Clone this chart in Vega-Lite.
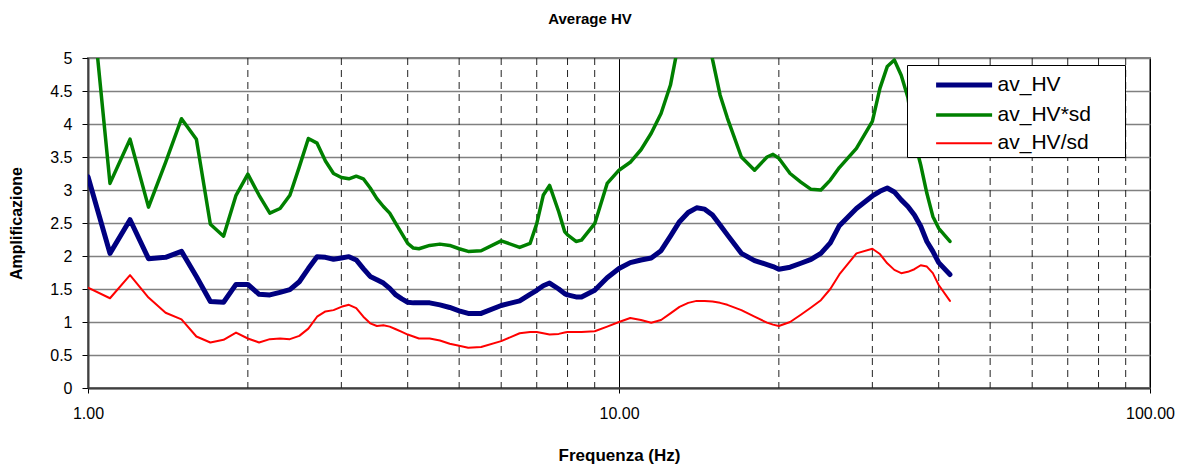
{
  "$schema": "https://vega.github.io/schema/vega-lite/v6.json",
  "width": 1062,
  "height": 330,
  "autosize": {"type": "none"},
  "padding": {"left": 88, "top": 58, "right": 42, "bottom": 80},
  "background": "white",
  "title": {"text": "Average HV", "fontSize": 15, "fontWeight": "bold", "font": "Liberation Sans", "dx": -29, "offset": 23, "color": "black"},
  "config": {
    "font": "Liberation Sans",
    "view": {"stroke": "#808080", "strokeWidth": 2}
  },
  "layer": [
    {
      "data": {"values": [{"g": 2}, {"g": 3}, {"g": 4}, {"g": 5}, {"g": 6}, {"g": 7}, {"g": 8}, {"g": 9}, {"g": 20}, {"g": 30}, {"g": 40}, {"g": 50}, {"g": 60}, {"g": 70}, {"g": 80}, {"g": 90}]},
      "mark": {"type": "rule", "color": "#222222", "strokeWidth": 1, "strokeDash": [7, 5]},
      "encoding": {
        "x": {"field": "g", "type": "quantitative", "scale": {"type": "log", "domain": [1, 100], "nice": false},
          "axis": {"values": [1, 10, 100], "format": ".2f", "title": "Frequenza (Hz)", "grid": true, "gridColor": "black", "gridWidth": 1, "tickSize": 5, "tickColor": "black", "labelPadding": 12, "labelFontSize": 16, "labelColor": "black", "titleFontSize": 17, "titleFontWeight": "bold", "titleColor": "black", "titlePadding": 26, "labelFlush": false, "labelOverlap": false, "domainColor": "#404040", "domainWidth": 2}}
      }
    },
    {
      "data": {"values": [
        {"f": 1.0, "av_HV": 3.20, "av_HV*sd": 6.49, "av_HV/sd": 1.52},
        {"f": 1.1, "av_HV": 2.04, "av_HV*sd": 3.10, "av_HV/sd": 1.36},
        {"f": 1.2, "av_HV": 2.55, "av_HV*sd": 3.77, "av_HV/sd": 1.71},
        {"f": 1.3, "av_HV": 1.96, "av_HV*sd": 2.74, "av_HV/sd": 1.37},
        {"f": 1.4, "av_HV": 1.98, "av_HV*sd": 3.42, "av_HV/sd": 1.14},
        {"f": 1.5, "av_HV": 2.07, "av_HV*sd": 4.08, "av_HV/sd": 1.04},
        {"f": 1.6, "av_HV": 1.69, "av_HV*sd": 3.77, "av_HV/sd": 0.78},
        {"f": 1.7, "av_HV": 1.31, "av_HV*sd": 2.48, "av_HV/sd": 0.69},
        {"f": 1.8, "av_HV": 1.30, "av_HV*sd": 2.30, "av_HV/sd": 0.73},
        {"f": 1.9, "av_HV": 1.57, "av_HV*sd": 2.92, "av_HV/sd": 0.84},
        {"f": 2.0, "av_HV": 1.57, "av_HV*sd": 3.24, "av_HV/sd": 0.75},
        {"f": 2.1, "av_HV": 1.42, "av_HV*sd": 2.92, "av_HV/sd": 0.69},
        {"f": 2.2, "av_HV": 1.41, "av_HV*sd": 2.65, "av_HV/sd": 0.74},
        {"f": 2.3, "av_HV": 1.45, "av_HV*sd": 2.72, "av_HV/sd": 0.75},
        {"f": 2.4, "av_HV": 1.49, "av_HV*sd": 2.92, "av_HV/sd": 0.74},
        {"f": 2.5, "av_HV": 1.61, "av_HV*sd": 3.35, "av_HV/sd": 0.79},
        {"f": 2.6, "av_HV": 1.81, "av_HV*sd": 3.78, "av_HV/sd": 0.90},
        {"f": 2.7, "av_HV": 1.99, "av_HV*sd": 3.71, "av_HV/sd": 1.08},
        {"f": 2.8, "av_HV": 1.98, "av_HV*sd": 3.44, "av_HV/sd": 1.16},
        {"f": 2.9, "av_HV": 1.95, "av_HV*sd": 3.25, "av_HV/sd": 1.18},
        {"f": 3.0, "av_HV": 1.97, "av_HV*sd": 3.19, "av_HV/sd": 1.23},
        {"f": 3.1, "av_HV": 1.99, "av_HV*sd": 3.17, "av_HV/sd": 1.26},
        {"f": 3.2, "av_HV": 1.94, "av_HV*sd": 3.21, "av_HV/sd": 1.21},
        {"f": 3.3, "av_HV": 1.81, "av_HV*sd": 3.17, "av_HV/sd": 1.08},
        {"f": 3.4, "av_HV": 1.69, "av_HV*sd": 3.03, "av_HV/sd": 0.98},
        {"f": 3.5, "av_HV": 1.64, "av_HV*sd": 2.87, "av_HV/sd": 0.94},
        {"f": 3.6, "av_HV": 1.59, "av_HV*sd": 2.75, "av_HV/sd": 0.95},
        {"f": 3.7, "av_HV": 1.51, "av_HV*sd": 2.65, "av_HV/sd": 0.93},
        {"f": 3.8, "av_HV": 1.41, "av_HV*sd": 2.49, "av_HV/sd": 0.89},
        {"f": 3.9, "av_HV": 1.35, "av_HV*sd": 2.34, "av_HV/sd": 0.85},
        {"f": 4.0, "av_HV": 1.30, "av_HV*sd": 2.19, "av_HV/sd": 0.81},
        {"f": 4.1, "av_HV": 1.29, "av_HV*sd": 2.12, "av_HV/sd": 0.78},
        {"f": 4.2, "av_HV": 1.29, "av_HV*sd": 2.11, "av_HV/sd": 0.75},
        {"f": 4.4, "av_HV": 1.29, "av_HV*sd": 2.16, "av_HV/sd": 0.75},
        {"f": 4.6, "av_HV": 1.26, "av_HV*sd": 2.18, "av_HV/sd": 0.72},
        {"f": 4.8, "av_HV": 1.22, "av_HV*sd": 2.16, "av_HV/sd": 0.67},
        {"f": 5.0, "av_HV": 1.17, "av_HV*sd": 2.11, "av_HV/sd": 0.64},
        {"f": 5.2, "av_HV": 1.13, "av_HV*sd": 2.07, "av_HV/sd": 0.61},
        {"f": 5.5, "av_HV": 1.13, "av_HV*sd": 2.08, "av_HV/sd": 0.62},
        {"f": 6.0, "av_HV": 1.25, "av_HV*sd": 2.23, "av_HV/sd": 0.71},
        {"f": 6.5, "av_HV": 1.32, "av_HV*sd": 2.13, "av_HV/sd": 0.83},
        {"f": 6.8, "av_HV": 1.42, "av_HV*sd": 2.19, "av_HV/sd": 0.85},
        {"f": 7.0, "av_HV": 1.48, "av_HV*sd": 2.49, "av_HV/sd": 0.85},
        {"f": 7.2, "av_HV": 1.55, "av_HV*sd": 2.92, "av_HV/sd": 0.83},
        {"f": 7.4, "av_HV": 1.59, "av_HV*sd": 3.07, "av_HV/sd": 0.81},
        {"f": 7.7, "av_HV": 1.50, "av_HV*sd": 2.67, "av_HV/sd": 0.82},
        {"f": 7.9, "av_HV": 1.43, "av_HV*sd": 2.37, "av_HV/sd": 0.84},
        {"f": 8.0, "av_HV": 1.41, "av_HV*sd": 2.32, "av_HV/sd": 0.85},
        {"f": 8.3, "av_HV": 1.38, "av_HV*sd": 2.22, "av_HV/sd": 0.85},
        {"f": 8.5, "av_HV": 1.38, "av_HV*sd": 2.24, "av_HV/sd": 0.85},
        {"f": 9.0, "av_HV": 1.48, "av_HV*sd": 2.49, "av_HV/sd": 0.86},
        {"f": 9.5, "av_HV": 1.67, "av_HV*sd": 3.10, "av_HV/sd": 0.93},
        {"f": 10, "av_HV": 1.81, "av_HV*sd": 3.30, "av_HV/sd": 1.00},
        {"f": 10.5, "av_HV": 1.90, "av_HV*sd": 3.42, "av_HV/sd": 1.06},
        {"f": 11, "av_HV": 1.94, "av_HV*sd": 3.61, "av_HV/sd": 1.03},
        {"f": 11.5, "av_HV": 1.97, "av_HV*sd": 3.86, "av_HV/sd": 0.99},
        {"f": 12, "av_HV": 2.08, "av_HV*sd": 4.16, "av_HV/sd": 1.03},
        {"f": 12.5, "av_HV": 2.30, "av_HV*sd": 4.59, "av_HV/sd": 1.13},
        {"f": 13, "av_HV": 2.52, "av_HV*sd": 5.3, "av_HV/sd": 1.23},
        {"f": 13.5, "av_HV": 2.66, "av_HV*sd": 5.9, "av_HV/sd": 1.29},
        {"f": 14, "av_HV": 2.73, "av_HV*sd": 6.1, "av_HV/sd": 1.32},
        {"f": 14.5, "av_HV": 2.71, "av_HV*sd": 5.7, "av_HV/sd": 1.32},
        {"f": 15, "av_HV": 2.62, "av_HV*sd": 4.98, "av_HV/sd": 1.31},
        {"f": 15.5, "av_HV": 2.47, "av_HV*sd": 4.44, "av_HV/sd": 1.29},
        {"f": 16, "av_HV": 2.32, "av_HV*sd": 4.09, "av_HV/sd": 1.26},
        {"f": 17, "av_HV": 2.04, "av_HV*sd": 3.50, "av_HV/sd": 1.18},
        {"f": 18, "av_HV": 1.93, "av_HV*sd": 3.30, "av_HV/sd": 1.08},
        {"f": 19, "av_HV": 1.87, "av_HV*sd": 3.50, "av_HV/sd": 0.99},
        {"f": 19.5, "av_HV": 1.84, "av_HV*sd": 3.54, "av_HV/sd": 0.96},
        {"f": 20, "av_HV": 1.80, "av_HV*sd": 3.48, "av_HV/sd": 0.94},
        {"f": 21, "av_HV": 1.83, "av_HV*sd": 3.25, "av_HV/sd": 1.00},
        {"f": 22, "av_HV": 1.89, "av_HV*sd": 3.12, "av_HV/sd": 1.11},
        {"f": 23, "av_HV": 1.95, "av_HV*sd": 3.01, "av_HV/sd": 1.22},
        {"f": 24, "av_HV": 2.04, "av_HV*sd": 3.00, "av_HV/sd": 1.33},
        {"f": 25, "av_HV": 2.20, "av_HV*sd": 3.15, "av_HV/sd": 1.50},
        {"f": 26, "av_HV": 2.46, "av_HV*sd": 3.34, "av_HV/sd": 1.72},
        {"f": 28, "av_HV": 2.72, "av_HV*sd": 3.63, "av_HV/sd": 2.04},
        {"f": 30, "av_HV": 2.91, "av_HV*sd": 4.04, "av_HV/sd": 2.11},
        {"f": 31, "av_HV": 2.98, "av_HV*sd": 4.54, "av_HV/sd": 2.03},
        {"f": 32, "av_HV": 3.03, "av_HV*sd": 4.87, "av_HV/sd": 1.89},
        {"f": 33, "av_HV": 2.97, "av_HV*sd": 4.97, "av_HV/sd": 1.79},
        {"f": 34, "av_HV": 2.85, "av_HV*sd": 4.74, "av_HV/sd": 1.74},
        {"f": 35, "av_HV": 2.75, "av_HV*sd": 4.40, "av_HV/sd": 1.76},
        {"f": 36, "av_HV": 2.62, "av_HV*sd": 3.75, "av_HV/sd": 1.80},
        {"f": 37, "av_HV": 2.45, "av_HV*sd": 3.38, "av_HV/sd": 1.86},
        {"f": 38, "av_HV": 2.22, "av_HV*sd": 2.95, "av_HV/sd": 1.84},
        {"f": 39, "av_HV": 2.07, "av_HV*sd": 2.60, "av_HV/sd": 1.74},
        {"f": 40, "av_HV": 1.90, "av_HV*sd": 2.42, "av_HV/sd": 1.56},
        {"f": 42, "av_HV": 1.72, "av_HV*sd": 2.22, "av_HV/sd": 1.32}
      ]},
      "transform": [{"fold": ["av_HV", "av_HV*sd", "av_HV/sd"], "as": ["series", "v"]}],
      "mark": {"type": "line", "clip": true, "strokeJoin": "round", "strokeCap": "round"},
      "encoding": {
        "x": {"field": "f", "type": "quantitative", "scale": {"type": "log", "domain": [1, 100], "nice": false},
          "axis": {"values": [1, 10, 100], "format": ".2f", "title": "Frequenza (Hz)", "grid": true, "gridColor": "black", "gridWidth": 1, "tickSize": 5, "tickColor": "black", "labelPadding": 12, "labelFontSize": 16, "labelColor": "black", "titleFontSize": 17, "titleFontWeight": "bold", "titleColor": "black", "titlePadding": 26, "labelFlush": false, "labelOverlap": false, "domainColor": "#404040", "domainWidth": 2}},
        "y": {"field": "v", "type": "quantitative", "scale": {"domain": [0, 5], "nice": false, "zero": true},
          "axis": {"values": [0, 0.5, 1, 1.5, 2, 2.5, 3, 3.5, 4, 4.5, 5], "format": "~g", "title": "Amplificazione", "grid": true, "gridColor": "#808080", "gridWidth": 1.5, "tickSize": 6, "tickColor": "black", "labelPadding": 10, "labelFontSize": 16, "labelColor": "black", "titleFontSize": 16, "titleFontWeight": "bold", "titleColor": "black", "titlePadding": 25, "domainColor": "#404040", "domainWidth": 2}},
        "color": {"field": "series", "type": "nominal",
          "scale": {"domain": ["av_HV", "av_HV*sd", "av_HV/sd"], "range": ["#000080", "#008000", "#FF0000"]},
          "legend": {"title": null, "orient": "none", "legendX": 819, "legendY": 7, "symbolType": "M-2,0L2,0", "symbolSize": 784, "symbolOffset": 37, "labelFontSize": 21, "labelColor": "black", "labelOffset": 17, "rowPadding": 3.3, "padding": 3.6, "strokeColor": "black", "fillColor": "white", "labelLimit": 300, "labelExpr": "datum.label + '\u2800\u2800'"}},
        "strokeWidth": {"field": "series", "type": "nominal",
          "scale": {"domain": ["av_HV", "av_HV*sd", "av_HV/sd"], "range": [5, 2, 2]},
          "legend": {"title": null, "orient": "none", "legendX": 819, "legendY": 7, "symbolType": "M-2,0L2,0", "symbolSize": 784, "symbolOffset": 37, "labelFontSize": 21, "labelColor": "black", "labelOffset": 17, "rowPadding": 3.3, "padding": 3.6, "strokeColor": "black", "fillColor": "white", "labelLimit": 300, "labelExpr": "datum.label + '\u2800\u2800'"}}
      }
    }
  ]
}
